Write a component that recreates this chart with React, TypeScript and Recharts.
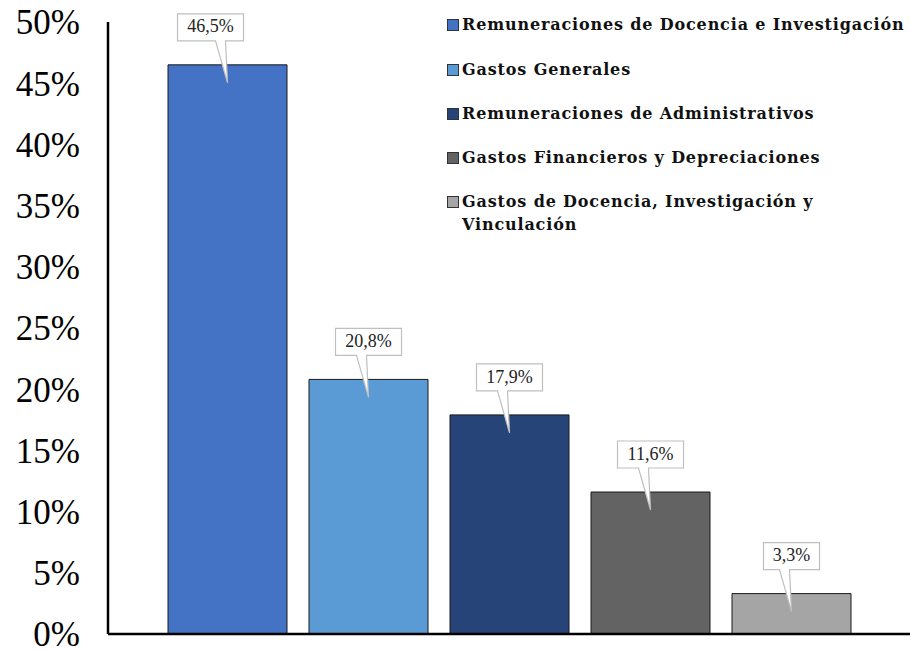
import React from 'react';
import { BarChart, Bar, XAxis, YAxis, LabelList } from 'recharts';

const categories = [
  'Remuneraciones de Docencia e Investigación',
  'Gastos Generales',
  'Remuneraciones de Administrativos',
  'Gastos Financieros y Depreciaciones',
  'Gastos de Docencia, Investigación y Vinculación',
];
const values = [46.5, 20.8, 17.9, 11.6, 3.3];
const yTicks = [0, 5, 10, 15, 20, 25, 30, 35, 40, 45, 50];
const colors = ['#4472C4', '#5B9BD5', '#264478', '#636363', '#A5A5A5'];
const keys = ['s0', 's1', 's2', 's3', 's4'];

const row: Record<string, any> = { name: 'Gastos' };
keys.forEach((k, i) => (row[k] = values[i]));
const data = [row];

const fmt = (v: number) => v.toFixed(1).replace('.', ',') + '%';

const makeLabel = (seriesIndex: number) => (props: any) => {
  const { x, y, width, value } = props;
  const cx = x + width / 2;
  const txt = fmt(Number(value));
  const w = txt.length * 10 + 16;
  const h = 27;
  const bx = cx + (seriesIndex === 0 ? -17 : 0);
  const bottom = y - 24;
  const top = bottom - h;
  const left = bx - w / 2;
  const right = bx + w / 2;
  const t1 = cx - 12;
  const t2 = cx - 2;
  const tipY = y + 18;
  const d = `M${left},${top} L${right},${top} L${right},${bottom} L${t2},${bottom} L${cx},${tipY} L${t1},${bottom} L${left},${bottom} Z`;
  return (
    <g>
      <path d={d} fill="#FFFFFF" stroke="#BFBFBF" strokeWidth={1.2} />
      <text
        x={bx}
        y={top + h / 2 + 1}
        textAnchor="middle"
        dominantBaseline="middle"
        fontFamily="'Liberation Serif', serif"
        fontSize={18}
        fill="#222"
      >
        {txt}
      </text>
    </g>
  );
};

const legendTops = [13, 58, 102, 146, 190];

export default function App() {
  return (
    <div style={{ position: 'absolute', left: 0, top: 0, width: 911, height: 650, background: '#fff' }}>
      <BarChart
        width={911}
        height={650}
        data={data}
        margin={{ top: 22, right: 1, bottom: 15, left: 0 }}
        barGap={22}
      >
        <XAxis
          dataKey="name"
          tick={false}
          tickLine={false}
          height={1}
          axisLine={{ stroke: '#000', strokeWidth: 2.5 }}
        />
        <YAxis
          width={108}
          domain={[0, 50]}
          ticks={yTicks}
          interval={0}
          tickFormatter={(v: number) => `${v}%`}
          tickLine={false}
          tickMargin={22}
          axisLine={{ stroke: '#000', strokeWidth: 2.5 }}
          tick={{ fill: '#000', fontSize: 35, fontFamily: "'Liberation Serif', serif" }}
        />
        {keys.map((k, i) => (
          <Bar
            key={k}
            dataKey={k}
            name={categories[i]}
            fill={colors[i]}
            stroke="#1a1a1a"
            strokeWidth={1}
            barSize={119}
            isAnimationActive={false}
          >
            <LabelList dataKey={k} content={makeLabel(i)} />
          </Bar>
        ))}
      </BarChart>
      <div style={{ position: 'absolute', left: 447, top: 0, width: 464 }}>
        {categories.map((c, i) => (
          <div
            key={c}
            style={{
              position: 'absolute',
              left: 0,
              top: legendTops[i],
              display: 'flex',
              alignItems: 'flex-start',
            }}
          >
            <div
              style={{
                width: 10,
                height: 10,
                marginTop: 6,
                background: colors[i],
                border: '1px solid #333',
                flex: 'none',
              }}
            />
            <div
              style={{
                marginLeft: 3,
                fontFamily: "'DejaVu Serif', serif",
                fontWeight: 'bold',
                fontSize: 16,
                letterSpacing: 0.85,
                lineHeight: '23px',
                color: '#111',
                whiteSpace: i === 4 ? 'normal' : 'nowrap',
                width: i === 4 ? 400 : undefined,
              }}
            >
              {c}
            </div>
          </div>
        ))}
      </div>
    </div>
  );
}
